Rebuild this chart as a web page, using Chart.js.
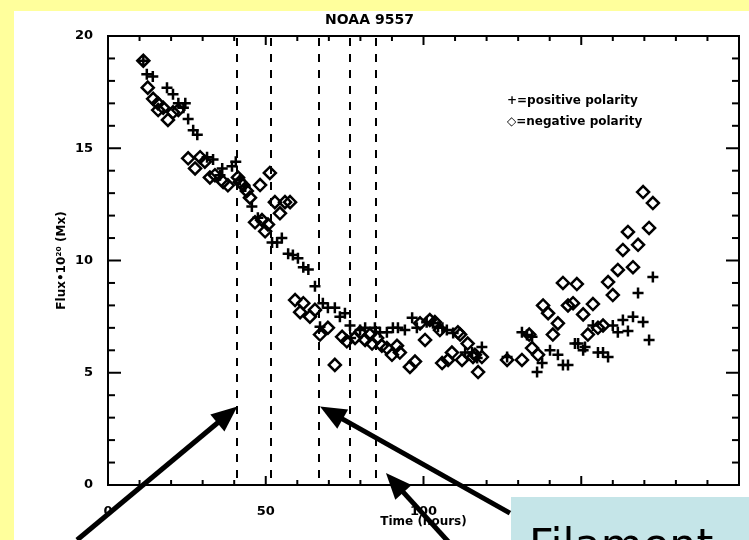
<!DOCTYPE html>
<html><head><meta charset="utf-8">
<script src="https://cdn.jsdelivr.net/npm/chart.js@4.4.1/dist/chart.umd.min.js"></script>
<style>
html,body{margin:0;padding:0;background:#FFFF9C;overflow:hidden}
#wrap{position:absolute;left:0;top:0;width:749px;height:540px}
</style>
</head><body>
<div id="wrap"><canvas id="c" width="749" height="540"></canvas></div>
<script>
// ---- data ----
const chartTitle = 'NOAA 9557';
const xTitle = 'Time (hours)';
const yTitle = 'Flux\u202210\u00B2\u2070 (Mx)';
const legendLabels = ['+=positive polarity', '\u25C7=negative polarity'];
const noteText = 'Filament';

const posTime = [11.2,12.3,14.2,18.7,20.6,22.3,23.9,24.5,25.4,27.0,28.3,31.4,33.3,35.5,36.2,39.3,40.5,41.8,43.5,45.6,47.5,52.0,53.6,55.1,57.1,58.6,60.2,61.9,63.5,65.6,68.1,69.7,71.9,73.5,75.1,67.2,76.7,76.9,79.9,81.5,84.6,86.2,88.4,90.3,91.9,94.1,96.4,97.9,101.0,103.0,104.6,106.0,107.4,109.4,113.2,115.4,117.0,118.5,126.5,131.2,132.8,134.4,136.0,137.6,140.1,142.6,144.2,145.8,148.0,149.0,150.6,151.2,153.7,155.3,156.9,158.5,160.0,161.6,163.2,164.8,166.4,168.0,169.6,171.5,172.7];
const posFlux = [18.9,18.3,18.2,17.7,17.4,17.0,16.8,17.0,16.3,15.8,15.6,14.6,14.5,13.8,14.1,14.2,14.4,13.6,13.3,12.4,11.9,10.8,10.8,11.0,10.3,10.25,10.1,9.7,9.6,8.85,8.1,7.9,7.9,7.5,7.65,7.05,7.1,6.55,6.9,7.0,7.0,6.8,6.8,7.0,7.0,6.9,7.45,7.0,7.25,7.2,7.05,7.0,6.9,6.77,5.9,5.9,5.66,6.15,5.7,6.8,6.68,6.6,5.03,5.43,6.0,5.8,5.35,5.35,6.3,6.3,6.0,6.15,7.1,5.9,5.9,5.7,7.1,6.8,7.35,6.86,7.5,8.55,7.26,6.46,9.27];

const negTime = [11.2,12.6,14.3,15.8,15.9,17.5,19.0,20.6,22.3,25.4,27.6,29.2,30.7,32.3,33.9,36.5,38.0,41.2,41.8,42.8,44.0,45.0,48.2,51.3,46.6,48.8,49.8,50.7,52.9,54.5,56.1,57.7,59.3,61.9,60.9,64.0,65.6,67.2,69.7,71.9,74.2,75.7,78.3,79.9,81.5,83.0,83.7,85.3,86.8,88.4,90.0,91.6,92.5,95.7,97.3,98.9,100.5,102.0,103.6,105.2,105.9,107.8,109.0,110.9,111.6,112.2,114.0,115.7,116.3,117.3,118.5,126.5,131.2,133.5,134.4,136.3,137.9,139.5,141.0,142.6,144.2,145.8,147.4,148.6,150.6,152.1,153.7,155.3,156.9,158.5,160.0,161.6,163.2,164.8,166.4,168.0,169.6,171.5,172.7];
const negFlux = [18.9,17.7,17.2,17.0,16.7,16.8,16.26,16.6,16.7,14.55,14.1,14.6,14.4,13.7,13.8,13.5,13.35,13.7,13.5,13.36,13.1,12.8,13.36,13.9,11.7,11.8,11.3,11.6,12.6,12.1,12.6,12.6,8.24,8.1,7.7,7.5,7.8,6.7,7.0,5.35,6.6,6.4,6.55,6.8,6.46,6.7,6.3,6.55,6.2,6.1,5.8,6.2,5.9,5.26,5.5,7.2,6.46,7.35,7.26,6.9,5.43,5.57,5.9,6.8,6.7,5.57,6.3,5.7,5.8,5.03,5.7,5.57,5.57,6.7,6.1,5.8,8.0,7.65,6.7,7.2,9.0,8.0,8.1,8.95,7.6,6.7,8.06,7.0,7.1,9.04,8.46,9.58,10.47,11.27,9.7,10.7,13.05,11.45,12.56];

// event times marked by dashed vertical lines
const eventTimes = [41, 51.7, 67, 76.7, 85];
// axis ranges / tick steps
const xRange = [0, 200], xMajor = 50, xMinor = 10;
const yRange = [0, 20], yMajor = 5, yMinor = 1;
// arrows (tail -> tip) in data units
const arrowTails = [[-9.8, -2.45], [127.4, -1.25], [109, -2.7]];
const arrowTips  = [[41, 3.5], [67.2, 3.5], [88.1, 0.53]];

const FONT = "'DejaVu Sans', sans-serif";

const posPts = posTime.map((t, i) => ({x: t, y: posFlux[i]}));
const negPts = negTime.map((t, i) => ({x: t, y: negFlux[i]}));

function line(ctx, x1, y1, x2, y2) { ctx.beginPath(); ctx.moveTo(x1, y1); ctx.lineTo(x2, y2); ctx.stroke(); }

function arrow(ctx, x1, y1, x2, y2) {
  const ang = Math.atan2(y2 - y1, x2 - x1);
  const hl = 26, hw = 11;
  const bx = x2 - hl * Math.cos(ang), by = y2 - hl * Math.sin(ang);
  ctx.lineWidth = 5; ctx.lineCap = 'butt';
  line(ctx, x1, y1, bx + 2 * Math.cos(ang), by + 2 * Math.sin(ang));
  ctx.beginPath();
  ctx.moveTo(x2, y2);
  ctx.lineTo(bx + hw * Math.sin(ang), by - hw * Math.cos(ang));
  ctx.lineTo(bx - hw * Math.sin(ang), by + hw * Math.cos(ang));
  ctx.closePath(); ctx.fill();
}

const decor = {
  id: 'decor',
  beforeDraw(chart) {
    const ctx = chart.ctx;
    ctx.save();
    ctx.fillStyle = '#FFFF9C'; ctx.fillRect(0, 0, chart.width, chart.height);
    ctx.fillStyle = '#FFFFFF'; ctx.fillRect(14, 11, chart.width - 14, chart.height - 11);
    ctx.restore();
  },
  beforeDatasetsDraw(chart) {
    const {ctx, chartArea: a, scales: {x}} = chart;
    ctx.save();
    ctx.strokeStyle = '#000'; ctx.lineWidth = 2; ctx.setLineDash([8, 8]);
    eventTimes.forEach(t => { const px = Math.round(x.getPixelForValue(t)); line(ctx, px, a.top + 2, px, a.bottom); });
    ctx.restore();
  },
  afterDraw(chart) {
    const {ctx, chartArea: a, scales: {x, y}} = chart;
    ctx.save();
    ctx.strokeStyle = '#000'; ctx.fillStyle = '#000'; ctx.lineWidth = 2;
    ctx.strokeRect(a.left, a.top, a.right - a.left, a.bottom - a.top);
    for (let v = xRange[0]; v <= xRange[1]; v += xMinor) {
      const px = x.getPixelForValue(v); const L = (v % xMajor === 0) ? 9 : 5;
      line(ctx, px, a.bottom, px, a.bottom - L); line(ctx, px, a.top, px, a.top + L);
    }
    for (let v = yRange[0]; v <= yRange[1]; v += yMinor) {
      const py = y.getPixelForValue(v); const L = (v % yMajor === 0) ? 13 : 7;
      line(ctx, a.left, py, a.left + L, py); line(ctx, a.right, py, a.right - L, py);
    }
    // legend
    ctx.font = 'bold 12px ' + FONT; ctx.textBaseline = 'middle'; ctx.textAlign = 'left';
    ctx.fillText(legendLabels[0], 507, 101);
    ctx.fillText(legendLabels[1], 507, 122);
    // note box
    ctx.fillStyle = '#C5E5E8'; ctx.fillRect(511, 497, chart.width - 511, chart.height - 497);
    ctx.fillStyle = '#000'; ctx.font = '43px ' + FONT; ctx.textBaseline = 'alphabetic';
    ctx.fillText(noteText, 529, 559);
    // arrows
    arrowTails.forEach((tl, i) => {
      const tp = arrowTips[i];
      arrow(ctx, x.getPixelForValue(tl[0]), y.getPixelForValue(tl[1]), x.getPixelForValue(tp[0]), y.getPixelForValue(tp[1]));
    });
    ctx.restore();
  }
};

new Chart(document.getElementById('c'), {
  type: 'scatter',
  data: {
    datasets: [
      {label: 'positive polarity', data: posPts, pointStyle: 'cross', pointRadius: 5.5, pointBorderWidth: 2.5, borderColor: '#000', backgroundColor: '#000'},
      {label: 'negative polarity', data: negPts, pointStyle: 'rectRot', pointRadius: 6, pointBorderWidth: 2.5, borderColor: '#000', backgroundColor: 'rgba(0,0,0,0)'}
    ]
  },
  options: {
    responsive: false, animation: false, devicePixelRatio: 1,
    layout: {padding: {left: 0, right: 10, top: 0, bottom: 0}},
    plugins: {
      legend: {display: false}, tooltip: {enabled: false},
      title: {display: true, text: chartTitle, color: '#000', font: {family: FONT, size: 14, weight: 'bold'}, padding: {top: 11.6, bottom: 7.6}}
    },
    scales: {
      x: {
        type: 'linear', min: xRange[0], max: xRange[1],
        grid: {display: false}, border: {display: false},
        ticks: {stepSize: xMajor, color: '#000', padding: 11, maxRotation: 0, font: {family: FONT, size: 13, weight: 'bold'}},
        title: {display: true, text: xTitle, color: '#000', font: {family: FONT, size: 12, weight: 'bold'}, padding: {top: 0, bottom: 11}},
        afterFit(s) { s.height = 55; s.paddingLeft = 0; s.paddingRight = 0; }
      },
      y: {
        type: 'linear', min: yRange[0], max: yRange[1],
        grid: {display: false}, border: {display: false},
        ticks: {stepSize: yMajor, color: '#000', padding: 7, font: {family: FONT, size: 13, weight: 'bold'}},
        title: {display: true, text: yTitle, color: '#000', font: {family: FONT, size: 12, weight: 'bold'}, padding: {top: 55, bottom: 0}},
        afterFit(s) { s.width = 108; s.paddingTop = 0; s.paddingBottom = 0; }
      }
    }
  },
  plugins: [decor]
});
</script>
</body></html>
